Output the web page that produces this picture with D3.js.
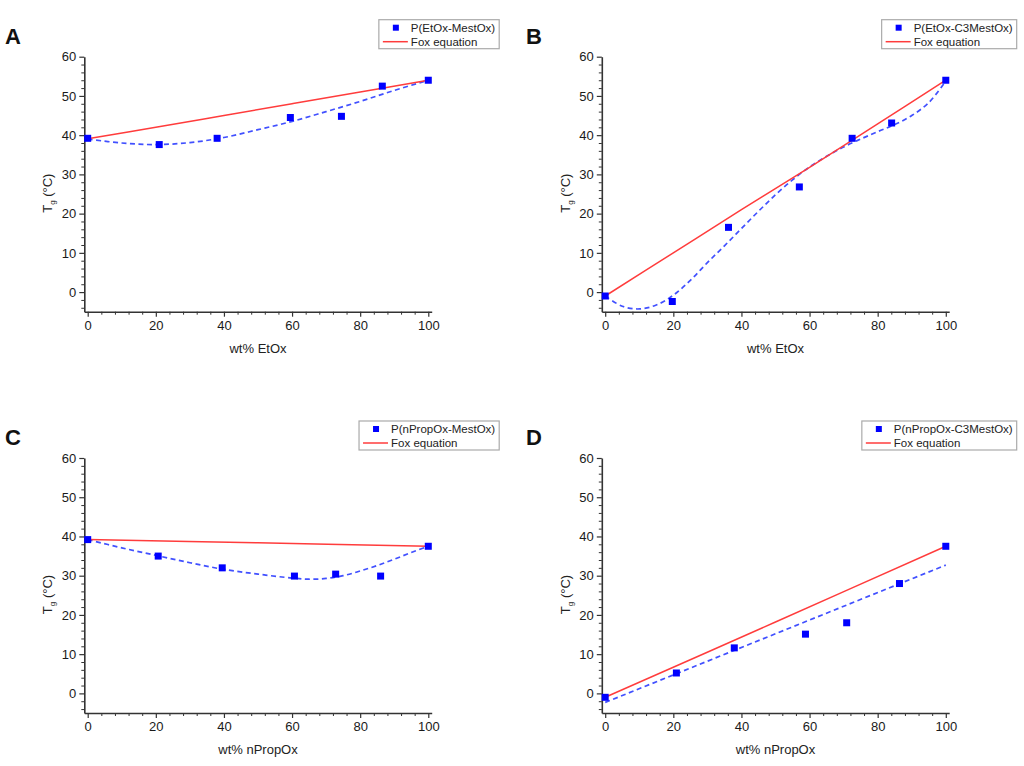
<!DOCTYPE html>
<html>
<head>
<meta charset="utf-8">
<script src="https://cdn.jsdelivr.net/npm/d3@7"></script>
<style>
  body { margin: 0; background: #fff; }
  svg { font-family: "Liberation Sans", Arial, sans-serif; }
</style>
</head>
<body>
<svg width="1024" height="766"></svg>
<script>
// Valeurs (wt% / Tg en °C)
const panelLetters = ["A", "B", "C", "D"];
const seriesNames = ["P(EtOx-MestOx)", "P(EtOx-C3MestOx)", "P(nPropOx-MestOx)", "P(nPropOx-C3MestOx)"];
const xTitles = ["wt% EtOx", "wt% EtOx", "wt% nPropOx", "wt% nPropOx"];
const foxName = "Fox equation";

const xTicks = [0, 20, 40, 60, 80, 100];
const yTicks = [0, 10, 20, 30, 40, 50, 60];

// points mesures
const wtA = [0, 21, 38, 59.5, 74.5, 86.5, 100];
const tgA = [39.2, 37.6, 39.2, 44.5, 44.8, 52.5, 54.0];
const wtB = [0, 19.7, 36.2, 57, 72.5, 84.1, 100];
const tgB = [-1.0, -2.4, 16.5, 26.8, 39.2, 43.1, 54.0];
const wtC = [0, 20.7, 39.5, 60.7, 72.8, 86.0, 100];
const tgC = [39.2, 35.0, 32.0, 29.9, 30.4, 29.9, 37.5];
const wtD = [0, 20.9, 37.9, 58.8, 70.9, 86.4, 100];
const tgD = [-1.0, 5.2, 11.6, 15.1, 18.0, 28.0, 37.5];

// courbes de fit (pointilles)
const fitXA = [0, 10, 20, 30, 40, 50, 60, 70, 80, 90, 100];
const fitYA = [39.0, 38.0, 37.6, 38.1, 39.4, 41.4, 43.5, 46.0, 48.6, 51.4, 54.0];
const fitXB = [0, 5, 10, 15, 20, 25, 30, 35, 40, 45, 50, 55, 60, 65, 70, 75, 80, 85, 90, 95, 100];
const fitYB = [-1.0, -3.6, -4.3, -3.3, -0.8, 3.0, 7.5, 11.8, 16.2, 20.6, 24.8, 28.6, 31.9, 34.6, 37.0, 39.0, 40.9, 42.7, 45.0, 48.3, 53.8];
const fitXC = [0, 10, 20, 30, 40, 50, 60, 65, 70, 75, 80, 85, 90, 95, 100];
const fitYC = [39.2, 37.1, 35.2, 33.3, 31.6, 30.4, 29.4, 29.1, 29.3, 30.0, 31.2, 32.6, 34.2, 35.9, 37.5];
const fitXD = [0, 100];
const fitYD = [-2.3, 32.7];

// equation de Fox (ligne rouge)
const foxXA = [0, 20, 40, 60, 80, 100];
const foxYA = [39.1, 42.0, 45.0, 48.0, 51.0, 54.0];
const foxXB = [0, 20, 40, 60, 80, 100];
const foxYB = [-1.0, 10.0, 21.0, 31.8, 42.9, 54.0];
const foxXC = [0, 50, 100];
const foxYC = [39.2, 38.4, 37.5];
const foxXD = [0, 50, 100];
const foxYD = [-1.0, 18.2, 37.5];

const panels = [
  { wt: wtA, tg: tgA, fx: fitXA, fy: fitYA, ox: foxXA, oy: foxYA },
  { wt: wtB, tg: tgB, fx: fitXB, fy: fitYB, ox: foxXB, oy: foxYB },
  { wt: wtC, tg: tgC, fx: fitXC, fy: fitYC, ox: foxXC, oy: foxYC },
  { wt: wtD, tg: tgD, fx: fitXD, fy: fitYD, ox: foxXD, oy: foxYD }
];

const svg = d3.select("svg");
const colLeft = [84.3, 601.8], rowTop = [56.7, 458];
const width = 347.4, height = 255;
const labelX = [5, 526];

panels.forEach(function(p, i) {
  const left = colLeft[i % 2], top = rowTop[Math.floor(i / 2)];
  const g = svg.append("g").attr("transform", "translate(" + left + "," + top + ")");

  const x = d3.scaleLinear().domain([-1, 101]).range([0, width]);
  const y = d3.scaleLinear().domain([-5, 60]).range([height, 0]);

  // graduations mineures
  const xMinor = d3.range(4, 100, 4).filter(function(v) { return v % 20 !== 0; });
  const yMinor = d3.range(-4, 60, 2).filter(function(v) { return v % 10 !== 0; });
  g.append("g").attr("transform", "translate(0," + height + ")")
    .call(d3.axisBottom(x).tickValues(xMinor).tickSize(3).tickFormat(""))
    .call(function(a) { a.select(".domain").remove(); a.selectAll("line").attr("stroke", "#333"); });
  g.append("g")
    .call(d3.axisLeft(y).tickValues(yMinor).tickSize(3).tickFormat(""))
    .call(function(a) { a.select(".domain").remove(); a.selectAll("line").attr("stroke", "#333"); });

  // axes principaux
  g.append("g").attr("transform", "translate(0," + height + ")")
    .call(d3.axisBottom(x).tickValues(xTicks).tickSize(5).tickSizeOuter(0).tickPadding(4))
    .call(function(a) {
      a.select(".domain").attr("stroke", "#333").attr("stroke-width", 1.6);
      a.selectAll("line").attr("stroke", "#333").attr("stroke-width", 1.2);
      a.selectAll("text").attr("font-size", 13).attr("fill", "#1a1a1a").attr("font-family", null);
    });
  g.append("g")
    .call(d3.axisLeft(y).tickValues(yTicks).tickSize(5).tickSizeOuter(0).tickPadding(3))
    .call(function(a) {
      a.select(".domain").attr("stroke", "#333").attr("stroke-width", 1.6);
      a.selectAll("line").attr("stroke", "#333").attr("stroke-width", 1.2);
      a.selectAll("text").attr("font-size", 13).attr("fill", "#1a1a1a").attr("font-family", null);
    });

  // titres des axes
  g.append("text")
    .attr("x", width / 2).attr("y", height + 41)
    .attr("text-anchor", "middle").attr("font-size", 13).attr("fill", "#222")
    .text(xTitles[i]);
  const yt = g.append("text")
    .attr("transform", "translate(-32," + (height / 2 + 9) + ") rotate(-90)")
    .attr("text-anchor", "middle").attr("font-size", 13).attr("fill", "#222");
  yt.append("tspan").text("T");
  yt.append("tspan").attr("font-size", 8).attr("dy", 3).text("g");
  yt.append("tspan").attr("dy", -3).text(" (°C)");

  // fit en pointilles
  const line = d3.line()
    .x(function(d) { return x(d[0]); })
    .y(function(d) { return y(d[1]); })
    .curve(d3.curveCatmullRom);
  g.append("path")
    .datum(d3.zip(p.fx, p.fy))
    .attr("fill", "none").attr("stroke", "#4150ff").attr("stroke-width", 1.7)
    .attr("stroke-dasharray", "5,3.5")
    .attr("d", line);

  // equation de Fox
  g.append("path")
    .datum(d3.zip(p.ox, p.oy))
    .attr("fill", "none").attr("stroke", "#ff3c3c").attr("stroke-width", 1.5)
    .attr("d", line);

  // points
  g.selectAll(".pt").data(d3.zip(p.wt, p.tg)).enter().append("rect")
    .attr("x", function(d) { return x(d[0]) - 3.5; })
    .attr("y", function(d) { return y(d[1]) - 3.5; })
    .attr("width", 7).attr("height", 7)
    .attr("fill", "#0000ff");

  // lettre du panneau
  svg.append("text")
    .attr("x", labelX[i % 2]).attr("y", top - 13)
    .attr("font-size", 22).attr("font-weight", "bold").attr("fill", "#111")
    .text(panelLetters[i]);

  // legende
  const leg = g.append("g");
  const t1 = leg.append("text").attr("x", 32).attr("y", 12).attr("font-size", 11.5).attr("fill", "#222").text(seriesNames[i]);
  leg.append("text").attr("x", 32).attr("y", 26).attr("font-size", 11.5).attr("fill", "#222").text(foxName);
  const boxW = 32 + t1.node().getComputedTextLength() + 4;
  leg.insert("rect", ":first-child")
    .attr("x", 0).attr("y", 0).attr("width", boxW).attr("height", 29)
    .attr("fill", "#fff").attr("stroke", "#aaa").attr("stroke-width", 1.2);
  leg.append("rect").attr("x", 14).attr("y", 5).attr("width", 6).attr("height", 6).attr("fill", "#0000ff");
  leg.append("line").attr("x1", 4).attr("x2", 29).attr("y1", 22).attr("y2", 22)
    .attr("stroke", "#ff3c3c").attr("stroke-width", 1.5);
  leg.attr("transform", "translate(" + (width + 67.5 - boxW) + ",-37)");
});
</script>
</body>
</html>
